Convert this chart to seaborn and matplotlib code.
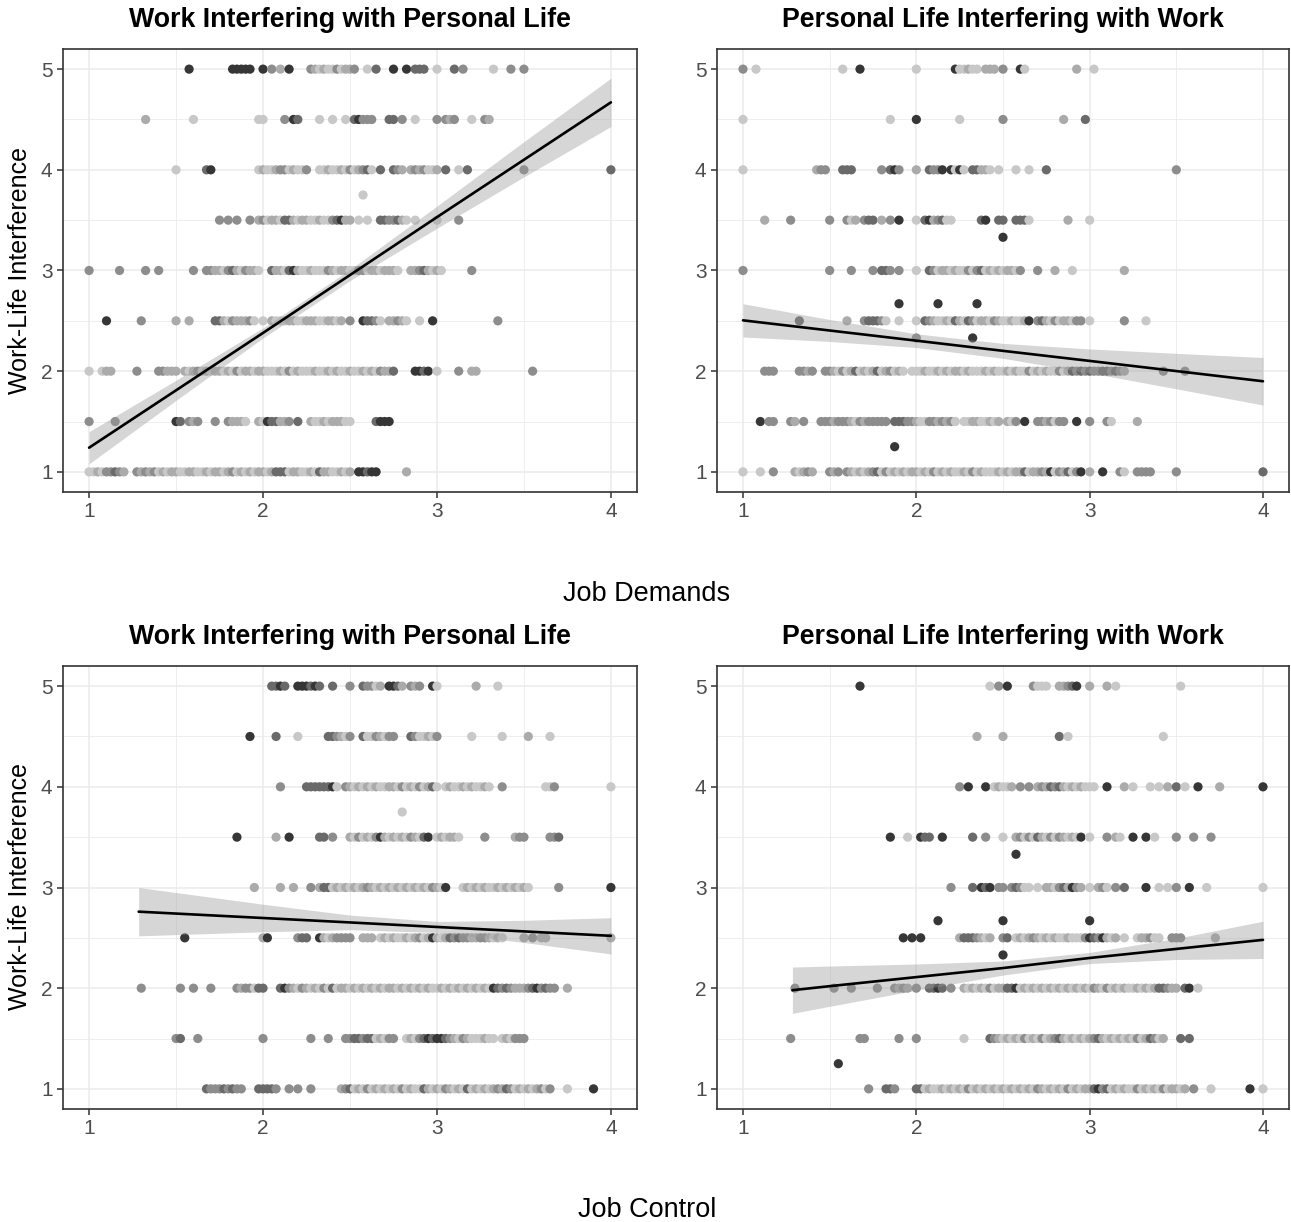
import numpy as np
import pandas as pd
import matplotlib
matplotlib.use("Agg")
import matplotlib.pyplot as plt
from matplotlib.ticker import FixedLocator
import seaborn as sns

sns.set_theme(style="white")
plt.rcParams["font.family"] = ["Liberation Sans", "DejaVu Sans"]

# ---------------------------------------------------------------
# Data.
# Each row string is a strip of the x axis from 1.0 to 4.0 in cells of
# 0.025 (groups of ten cells separated by '|'); '.' = no point,
# digits 1-5 = grey shade of the point (1 lightest, 5 darkest).
# ---------------------------------------------------------------
panel_titles = ["Work Interfering with Personal Life", "Personal Life Interfering with Work",
                "Work Interfering with Personal Life", "Personal Life Interfering with Work"]
row_labels = ["Job Demands", "Job Control"]
y_label = "Work-Life Interference"
x_ticks = [1, 2, 3, 4]
y_ticks = [1, 2, 3, 4, 5]

demands_wipl = {
    5: "..........|..........|...5......|...55555..|5.3.2.5...|.321211312|23..1.4...|5..5.444..|1...4.3...|...1...3..|3.........",
    4.5: "..........|...2......|....1.....|.........1|1....3.54.|...1..1..1|.45333...4|4.3..1....|3.323...1.|.32.......",
    4: "..........|..........|1......45.|.........1|2112331211|3..1121121|312341.4..|432.232311|2.4..1.4..|..........|3.........|..........|4",
    3.75: "..........|..........|..........|..........|..........|..........|...1......",
    3.5: "..........|..........|..........|3.3.3..3.2|3122144212|2112113452|2.1.1..443|3421.1....|1....3....",
    3: "3......3..|...3..3...|....3..332|2134213221|..42214521|1211132122|1133122122|21..223421|21......3.",
    2.5: "....5.....|..3.......|2..2.....4|421322231.|1.21112211|222112212.|3..54431.2|2321..1..5|..........|....3.....",
    2: "1..122....|.3....3322|2.21231212|2121312212|2111213121|1121121211|2112121322|4....5545.|1....3..22|..........|..3.......",
    1.5: "3.....3...|..........|54.323...3|..32221..2|1544223.4.|.211212221|1.....4555",
    1: "112133432.|.323231212|2112211212|2123121212|2124441221|1214221121|2.55455...|...2......",
}
demands_plw = {
    5: "3..1......|..........|...1...5..|..........|1........5|11211.222.|3...51....|.......2..|.1........",
    4.5: "1.........|..........|..........|....1.....|5.........|1.........|3.........|....2....4",
    4: "1.........|.......233|...444....|..3.453...|2..4335.51|51.44221.1|...1..1...|4.........|..........|..........|3.........",
    3.5: ".....2....|.3........|3...312.34|4.2.3.5...|1.4523411.|.....45..4|4..4441...|.....2....|1.........",
    3.33: "..........|..........|..........|..........|..........|..........|5.........",
    3: "3.........|..........|3....3....|3.443.3...|1..4312212|1131341212|12213...3.|..2...1...|........2.",
    2.67: "..........|..........|..........|......5...|.....5....|....5.....",
    2.5: "..........|...4......|....2...34|4431..1...|1.43211214|2143122132|1121125.34|213122133.|1.......3.|...1......",
    2.33: "..........|..........|..........|..........|3.........|...5......",
    2: ".....333..|...3323..3|3213124121|24123121.1|1121121212|2121112121|1212113121|2113124343|433443432.|.......3..|..3.......",
    1.5: "....5.33..|.32.3...33|3233321323|3333.44433|2113323231|.112211212|.213.5..33|23133..5..|3...31....|.2........",
    1.25: "..........|..........|..........|.....5....",
    1: "1...1..3..|..21232...|323.321212|3413121212|2121312121|1213121112|1212241223|251324135.|2..5...31.|.3333.....|3.........|..........|4",
}
control_wipl = {
    5: "..........|..........|..........|..........|..4454..55|5454..4...|3..43312.5|542.323..5|1........2|....1.....",
    4.5: "..........|..........|..........|.......5..|...4....1.|.....44321|3..4113213|3...431121|3.......1.|.....1....|.2....1...",
    4: "..........|..........|..........|..........|....3.....|44444451.3|2121212112|2131213124|1.12112121|121..3....|.....113..|..........|1",
    3.75: "..........|..........|..........|..........|..........|..........|..........|..1.......",
    3.5: "..........|..........|..........|....5.....|...2..5...|...44.3...|2131213521|212132145.|121221....|.3......23|3.....334.",
    3: "..........|..........|..........|........2.|....2..2..|.3.2441212|1212321212|1212121213|215...1212|1211212121|21......3.|..........|5",
    2.5: "..........|..........|..5.......|..........|25......34|4..5212333|3..222.121|2112123125|2124343322|332121....|2.3.22....|..........|2",
    2: "..........|..3.......|.3..3...3.|....323314|4...453213|2121314122|1212121212|2121212121|1212121212|1215434322|23453433..|2.........",
    1.5: "..........|..........|34...3....|..........|3.........|.3...3...3|3443441213|3..1213454|5543213211|1211.12133|3.........",
    1: "..........|..........|.......433|343433...4|4443..3.3.|.3......23|4121312121|2131211421|2132121412|1212324312|1212313...|1.....5...",
}
control_plw = {
    5: "..........|..........|.......5..|..........|..........|.......1.3|.5.....311|1..22345..|2...2.1...|..........|.1........",
    4.5: "..........|..........|..........|..........|..........|....2.....|2.........|...4.1....|..........|.......1..",
    4: "..........|..........|..........|..........|..........|3.5...5.12|112.3.3.23|2434212121|11..5...2.|1...1.1.2.|4.1..5....|2.........|5",
    3.5: "..........|..........|..........|....5...1.|.544..5...|...4..3...|1..2313142|131321215.|1...3.21..|5..5.1....|3...3...3.",
    3.33: "..........|..........|..........|..........|..........|..........|...5......",
    3: "..........|..........|..........|..........|........3.|...4.545.3|3.34311.1.|221342532.|1.231.3.4.|...5..1.1.|3..5...1..|..........|1",
    2.67: "..........|..........|..........|..........|.....5....|..........|5.........|..........|5.........",
    2.5: "..........|..........|..........|.......5.5|.5........|24443212..|34.1212321|2121121113|5435212.1.|.122311..3|33.......2",
    2.33: "..........|..........|..........|..........|..........|..........|5.........",
    2: "..........|..3.......|.3...3....|.3...3232.|3..4454.3.|.212121312|2445121212|1212121212|1321312121|1212124432|2.45.1....",
    1.5: "..........|.3........|.......33.|......3...|3.........|.1.....432|1212131213|1234212121|2342121212|13124312..|.4.4......",
    1.25: "..........|..........|..5.......",
    1: "..........|..........|.........3|...443....|4412112121|2131212121|2121212132|1212131212|2453412121|1312121312|212.3...1.|.......5..|1",
}

# fitted regression lines and confidence bands
fit_x_demands = [1.0, 1.5, 2.0, 2.5, 3.0, 3.5, 4.0]
fit_x_control = [1.285, 1.5, 2.0, 2.5, 3.0, 3.5, 4.0]

fit_demands_wipl = [1.24, 1.81, 2.38, 2.955, 3.53, 4.10, 4.67]
lo_demands_wipl = [1.08, 1.71, 2.33, 2.90, 3.42, 3.93, 4.43]
hi_demands_wipl = [1.40, 1.91, 2.43, 3.01, 3.64, 4.28, 4.91]

fit_demands_plw = [2.505, 2.404, 2.303, 2.202, 2.102, 2.001, 1.90]
lo_demands_plw = [2.34, 2.295, 2.235, 2.128, 1.983, 1.825, 1.664]
hi_demands_plw = [2.67, 2.513, 2.371, 2.276, 2.221, 2.177, 2.136]

fit_control_wipl = [2.76, 2.741, 2.697, 2.653, 2.608, 2.564, 2.52]
lo_control_wipl = [2.52, 2.532, 2.56, 2.581, 2.553, 2.454, 2.34]
hi_control_wipl = [3.00, 2.95, 2.834, 2.726, 2.663, 2.674, 2.70]

fit_control_plw = [1.98, 2.02, 2.11, 2.20, 2.30, 2.39, 2.48]
lo_control_plw = [1.75, 1.82, 1.98, 2.13, 2.245, 2.285, 2.295]
hi_control_plw = [2.21, 2.22, 2.24, 2.27, 2.355, 2.495, 2.665]

# ---------------------------------------------------------------
SHADES = {"1": "#c8c8c8", "2": "#ababab", "3": "#8d8d8d", "4": "#6a6a6a", "5": "#363636"}
CELL = 0.025
X0 = 1.0


def decode(rows):
    xs, ys, cs = [], [], []
    for level, s in rows.items():
        cells = "".join(g[:10].ljust(10, ".") for g in s.split("|"))
        for i, ch in enumerate(cells):
            if ch in SHADES:
                xs.append(X0 + CELL * i)
                ys.append(level)
                cs.append(ch)
    return pd.DataFrame({"x": xs, "y": ys, "shade": cs})


panels = [
    (demands_wipl, fit_x_demands, fit_demands_wipl, lo_demands_wipl, hi_demands_wipl),
    (demands_plw, fit_x_demands, fit_demands_plw, lo_demands_plw, hi_demands_plw),
    (control_wipl, fit_x_control, fit_control_wipl, lo_control_wipl, hi_control_wipl),
    (control_plw, fit_x_control, fit_control_plw, lo_control_plw, hi_control_plw),
]

W, H = 1291, 1222
fig = plt.figure(figsize=(W / 100, H / 100), dpi=100)
fig.patch.set_facecolor("white")

# panel boxes in pixels: left, top, right, bottom
boxes = [(63, 49, 637, 492), (717, 49, 1289, 492),
         (63, 666, 637, 1109), (717, 666, 1289, 1109)]

axes = []
for k, (rows, fx, fy, lo, hi) in enumerate(panels):
    l, t, r, b = boxes[k]
    ax = fig.add_axes([l / W, 1 - b / H, (r - l) / W, (b - t) / H])
    axes.append(ax)
    df = decode(rows)
    sns.scatterplot(data=df, x="x", y="y", hue="shade", palette=SHADES,
                    hue_order=list(SHADES.keys()), s=44, linewidth=0,
                    legend=False, ax=ax, zorder=2)
    ax.fill_between(fx, lo, hi, color="#999999", alpha=0.4, linewidth=0, zorder=3)
    sns.lineplot(x=fx, y=fy, color="black", linewidth=1.9, ax=ax, zorder=4)

    ax.set_xlim(0.85, 4.15)
    ax.set_ylim(0.8, 5.2)
    ax.xaxis.set_major_locator(FixedLocator(x_ticks))
    ax.yaxis.set_major_locator(FixedLocator(y_ticks))
    ax.xaxis.set_minor_locator(FixedLocator([1.5, 2.5, 3.5]))
    ax.yaxis.set_minor_locator(FixedLocator([1.5, 2.5, 3.5, 4.5]))
    ax.grid(which="major", color="#ebebeb", linewidth=1.1, zorder=0)
    ax.grid(which="minor", color="#ebebeb", linewidth=0.6, zorder=0)
    ax.set_axisbelow(True)
    ax.tick_params(which="major", direction="out", length=4, width=1.1,
                   color="#333333", labelsize=15, labelcolor="#4d4d4d", pad=3.5,
                   bottom=True, left=True)
    ax.tick_params(which="minor", length=0)
    for sp in ax.spines.values():
        sp.set_color("#333333")
        sp.set_linewidth(1.2)
    ax.set_xlabel("")
    ax.set_ylabel("")

    cx = (l + r) / 2 / W
    ty = 20 if k < 2 else 637
    fig.text(cx, 1 - ty / H, panel_titles[k], ha="center", va="center",
             fontsize=19.3, fontweight="bold", color="black")

fig.text(647 / W, 1 - 594 / H, row_labels[0], ha="center", va="center",
         fontsize=19.5, color="black")
fig.text(647 / W, 1 - 1210 / H, row_labels[1], ha="center", va="center",
         fontsize=19.5, color="black")
for cy in (270, 887):
    fig.text(20 / W, 1 - cy / H, y_label, ha="center", va="center",
             rotation=90, fontsize=18, color="black")

fig.savefig("out.png", dpi=100, facecolor="white")
